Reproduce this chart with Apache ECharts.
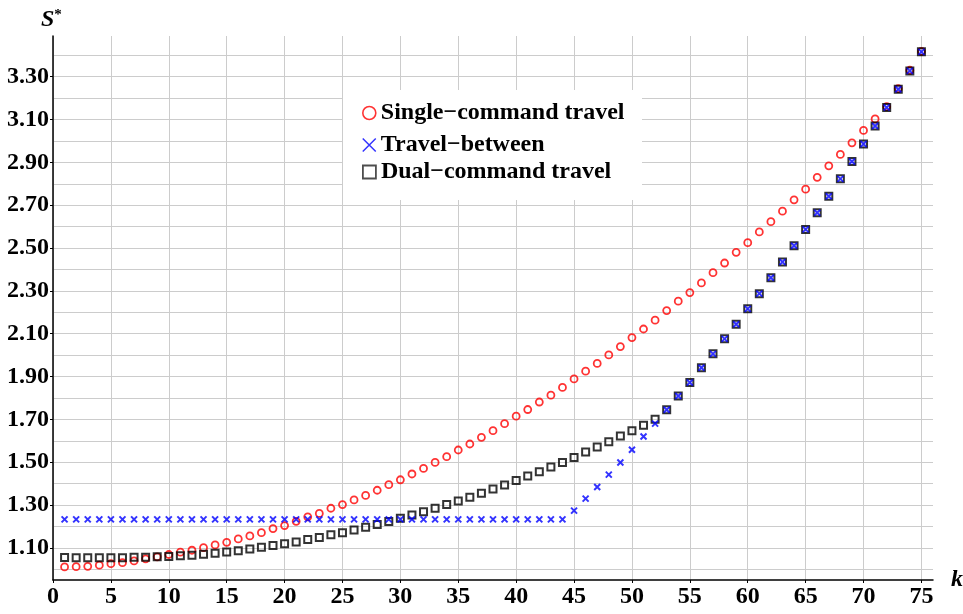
<!DOCTYPE html>
<html>
<head>
<meta charset="utf-8">
<script src="https://cdn.jsdelivr.net/npm/echarts@6/dist/echarts.min.js"></script>
<style>html,body{margin:0;padding:0;background:#fff}#c{width:963px;height:614px}</style>
</head>
<body>
<div id="c"></div>
<script>
const kValues = [1,2,3,4,5,6,7,8,9,10,11,12,13,14,15,16,17,18,19,20,21,22,23,24,25,26,27,28,29,30,31,32,33,34,35,36,37,38,39,40,41,42,43,44,45,46,47,48,49,50,51,52,53,54,55,56,57,58,59,60,61,62,63,64,65,66,67,68,69,70,71,72,73,74,75];
const singleCommand = [1.011,1.012,1.014,1.019,1.026,1.031,1.039,1.049,1.058,1.069,1.080,1.089,1.101,1.114,1.126,1.142,1.156,1.171,1.190,1.204,1.224,1.245,1.261,1.285,1.302,1.324,1.345,1.369,1.395,1.418,1.445,1.471,1.499,1.526,1.557,1.585,1.616,1.647,1.680,1.715,1.746,1.781,1.813,1.849,1.889,1.925,1.961,2.001,2.040,2.082,2.122,2.163,2.208,2.252,2.292,2.337,2.385,2.430,2.480,2.525,2.575,2.623,2.672,2.725,2.775,2.830,2.884,2.937,2.991,3.049,3.103,3.160,3.244,3.330,3.418];
const travelBetween = [1.233,1.233,1.233,1.233,1.233,1.233,1.233,1.233,1.233,1.233,1.233,1.233,1.233,1.233,1.233,1.233,1.233,1.233,1.233,1.233,1.233,1.233,1.233,1.233,1.233,1.233,1.233,1.233,1.233,1.233,1.233,1.233,1.233,1.233,1.233,1.233,1.233,1.233,1.233,1.233,1.233,1.233,1.233,1.233,1.274,1.330,1.384,1.442,1.499,1.558,1.620,1.680,1.745,1.809,1.872,1.941,2.006,2.076,2.144,2.216,2.287,2.361,2.435,2.511,2.587,2.665,2.742,2.823,2.904,2.986,3.070,3.156,3.241,3.327,3.416];
const dualCommand = [1.055,1.054,1.054,1.054,1.054,1.054,1.056,1.056,1.058,1.060,1.063,1.066,1.070,1.075,1.081,1.087,1.095,1.103,1.111,1.119,1.128,1.139,1.149,1.161,1.171,1.184,1.196,1.209,1.223,1.238,1.254,1.269,1.285,1.302,1.319,1.336,1.355,1.375,1.394,1.414,1.436,1.456,1.478,1.499,1.522,1.548,1.571,1.596,1.622,1.647,1.673,1.700,1.745,1.809,1.872,1.941,2.006,2.076,2.144,2.216,2.287,2.361,2.435,2.511,2.587,2.665,2.742,2.823,2.904,2.986,3.070,3.156,3.241,3.327,3.416];
const seriesNames = ['Single\u2212command travel', 'Travel\u2212between', 'Dual\u2212command travel'];
const xTicks = [0,5,10,15,20,25,30,35,40,45,50,55,60,65,70,75];
const yGridValues = [1.0,1.1,1.2,1.3,1.4,1.5,1.6,1.7,1.8,1.9,2.0,2.1,2.2,2.3,2.4,2.5,2.6,2.7,2.8,2.9,3.0,3.1,3.2,3.3,3.4];
const yLabelValues = [1.1,1.3,1.5,1.7,1.9,2.1,2.3,2.5,2.7,2.9,3.1,3.3];

const pairs = (ys) => kValues.map((k, i) => [k, ys[i]]);
const FONT = '"Liberation Serif", "Times New Roman", serif';
const crossPath = 'path://M0,0L10,10M10,0L0,10';

const chart = echarts.init(document.getElementById('c'), null, {renderer: 'canvas'});
const legendText = {fontFamily: FONT, fontWeight: 'bold', fontSize: 24, color: '#000'};
chart.setOption({
  animation: false,
  backgroundColor: '#fff',
  grid: {left: 53, top: 36, width: 880, height: 544, containLabel: false},
  xAxis: {
    type: 'value', min: 0, max: 76,
    axisLine: {show: true, lineStyle: {color: '#000', width: 1.5}},
    axisTick: {show: true, length: 3, customValues: xTicks, lineStyle: {color: '#000'}},
    axisLabel: {customValues: xTicks, margin: 5, fontFamily: FONT, fontWeight: 'bold', fontSize: 24, color: '#000'},
    splitLine: {show: true, lineStyle: {color: '#cccccc', width: 1}}
  },
  yAxis: [{
    type: 'value', min: 0.95, max: 3.49, position: 'left',
    axisLine: {show: false},
    axisTick: {show: false, customValues: yGridValues},
    axisLabel: {show: false, customValues: yGridValues},
    splitLine: {show: true, lineStyle: {color: '#cccccc', width: 1}}
  }, {
    type: 'value', min: 0.95, max: 3.49, position: 'left', offset: 0,
    axisLine: {show: true, onZero: false, lineStyle: {color: '#000', width: 1.5}},
    axisTick: {show: true, length: 3, customValues: yLabelValues, lineStyle: {color: '#000'}},
    axisLabel: {customValues: yLabelValues, margin: 4, formatter: v => v.toFixed(2), fontFamily: FONT, fontWeight: 'bold', fontSize: 24, color: '#000'},
    splitLine: {show: false}
  }],
  legend: [
    {left: 362, top: 101, padding: 0, itemWidth: 13, itemHeight: 13, textStyle: legendText, selectedMode: false,
     data: [{name: seriesNames[0], icon: 'circle', itemStyle: {color: 'transparent', borderColor: '#ff0000', borderWidth: 1.6}}]},
    {left: 362, top: 133, padding: 0, itemWidth: 13, itemHeight: 13, textStyle: legendText, selectedMode: false,
     data: [{name: seriesNames[1], icon: crossPath, itemStyle: {color: 'transparent', borderColor: '#0000ff', borderWidth: 1.5}}]},
    {left: 362, top: 160, padding: 0, itemWidth: 13, itemHeight: 13, textStyle: legendText, selectedMode: false,
     data: [{name: seriesNames[2], icon: 'rect', itemStyle: {color: 'transparent', borderColor: '#222', borderWidth: 1.8}}]}
  ],
  graphic: [
    {type: 'rect', z: 3, shape: {x: 343, y: 90, width: 299, height: 110}, style: {fill: '#fff'}},
    {type: 'text', left: 41, top: 8, z: 5, style: {
      text: '{s|S}{a|*}', rich: {
        s: {fontFamily: FONT, fontWeight: 'bold', fontStyle: 'italic', fontSize: 24, fill: '#000'},
        a: {fontFamily: FONT, fontWeight: 'bold', fontSize: 15, fill: '#000', verticalAlign: 'top', padding: [0,0,8,0]}
      }}},
    {type: 'text', left: 951, top: 568, z: 5, style: {text: 'k', fontFamily: FONT, fontWeight: 'bold', fontStyle: 'italic', fontSize: 24, fill: '#000'}}
  ],
  series: [
    {name: seriesNames[0], type: 'scatter', data: pairs(singleCommand), symbol: 'circle', symbolSize: 7, z: 2,
     itemStyle: {color: 'transparent', borderColor: '#ff0000', borderWidth: 1.8}},
    {name: seriesNames[2], type: 'scatter', data: pairs(dualCommand), symbol: 'rect', symbolSize: 7, z: 3,
     itemStyle: {color: 'transparent', borderColor: '#000', borderWidth: 2}},
    {name: seriesNames[1], type: 'scatter', data: pairs(travelBetween), symbol: crossPath, symbolSize: 6, z: 4,
     itemStyle: {color: 'transparent', borderColor: '#0000ff', borderWidth: 2}}
  ]
});
</script>
</body>
</html>
